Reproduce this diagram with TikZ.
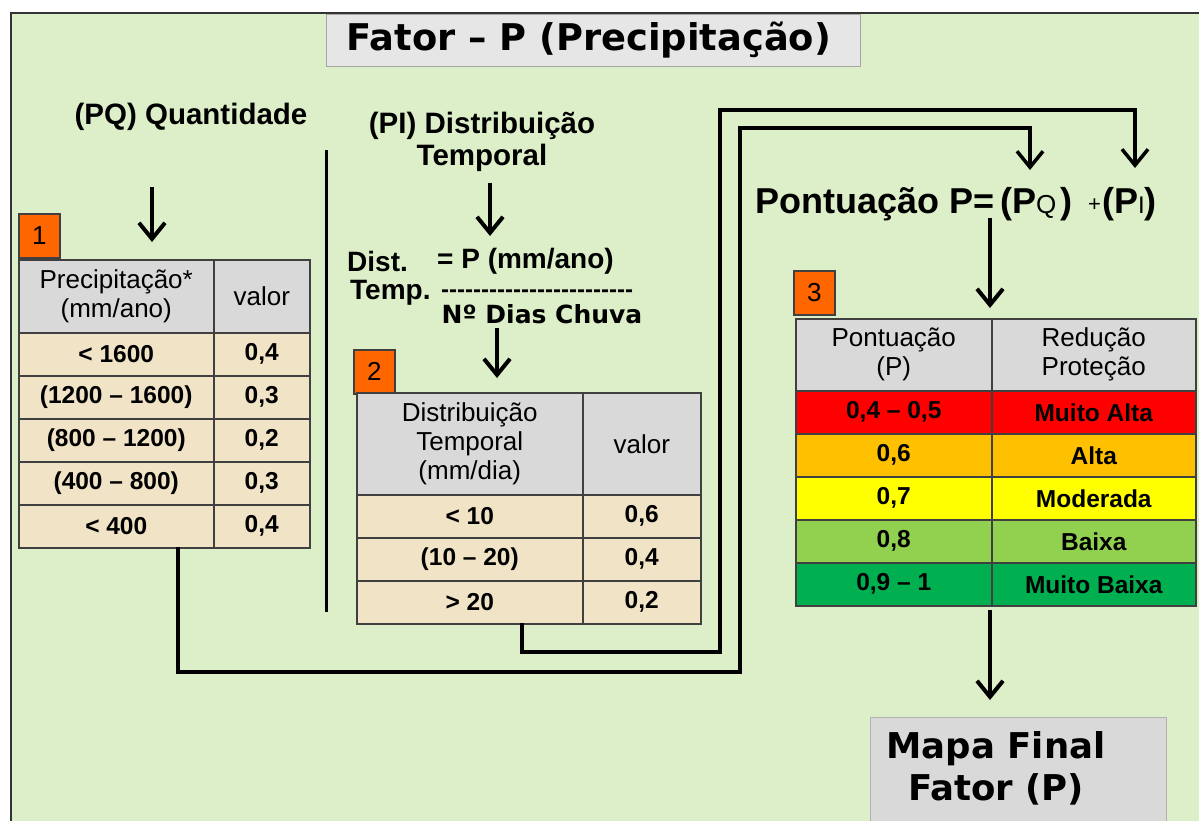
\documentclass[tikz,border=0pt]{standalone}
\usepackage{fontspec}
\setmainfont{Liberation Sans}
\newfontfamily\verd{DejaVu Sans}
\newfontfamily\arialplain{Liberation Sans}
\usetikzlibrary{arrows.meta,positioning,calc}

\definecolor{bggreen}{RGB}{221,239,200}
\definecolor{tabgray}{RGB}{217,217,217}
\definecolor{titlegray}{RGB}{230,230,230}
\definecolor{parch}{RGB}{241,227,198}
\definecolor{tline}{RGB}{64,64,64}
\definecolor{badgeorange}{RGB}{255,102,0}
\definecolor{rowred}{RGB}{255,0,0}
\definecolor{roworange}{RGB}{255,192,0}
\definecolor{rowyellow}{RGB}{255,255,0}
\definecolor{rowlgreen}{RGB}{146,208,80}
\definecolor{rowdgreen}{RGB}{0,176,80}

\begin{document}
\begin{tikzpicture}[
    x=1pt, y=-1pt,
    cell/.style={
        draw=tline,
        line width=1.5pt,
        inner sep=0pt,
        anchor=north west,
        align=center
    },
    headcell/.style={
        cell,
        fill=tabgray,
        font=\fontsize{26}{29}\selectfont
    },
    bodycell/.style={
        cell,
        fill=parch,
        font=\fontsize{24.5}{28}\selectfont\bfseries
    },
    badge/.style={
        draw=tline,
        fill=badgeorange,
        line width=1.5pt,
        minimum width=41,
        minimum height=44,
        inner sep=0pt,
        anchor=north west,
        font=\fontsize{26}{26}\selectfont
    },
    heading/.style={
        inner sep=0pt,
        align=center,
        font=\fontsize{29.5}{32}\selectfont\bfseries
    },
    distlabel/.style={
        inner sep=0pt,
        anchor=west,
        font=\fontsize{28}{30}\selectfont\bfseries
    },
    bigbox/.style={
        draw=black!30,
        fill=tabgray,
        line width=1pt,
        anchor=north west
    },
    arrow/.style={
        -{Straight Barb[length=16pt,width=26pt]},
        line width=4pt
    },
    wire/.style={
        line width=3.5pt
    }
]
\useasboundingbox (0,0) rectangle (1199,820);
\fill[white] (0,0) rectangle (1199,820);

% Moldura
\draw[fill=bggreen, draw=black!80, line width=1.5pt] (11,13) rectangle (1240,860);

% Titulo
\node[bigbox, draw=black!35, fill=titlegray, minimum width=534, minimum height=52] (titlebox) at (326,14) {};
\node[font=\verd\bfseries\fontsize{36.8}{40}\selectfont] (title) at (589,40) {Fator – P (Precipitação)};

% Cabecalhos
\node[heading] (pq) at (191,117) {(PQ) Quantidade};
\node[heading] (pi) at (482,142) {(PI) Distribuição\\Temporal};

% Separador
\draw[line width=3pt] (326,150) -- (326,612);

% Tabela 1
\node[badge] (b1) at (18,213) {1};
\node[headcell, minimum width=195, minimum height=73] (t1h1) at (18,259) {Precipitação*\\(mm/ano)};
\node[headcell, minimum width=96, minimum height=73] (t1h2) at (213,259) {valor};
\foreach \lab/\val [count=\i] in {{< 1600}/{0,4}, {(1200 – 1600)}/{0,3}, {(800 – 1200)}/{0,2}, {(400 – 800)}/{0,3}, {< 400}/{0,4}} {
    \node[bodycell, minimum width=195, minimum height=43] (t1a\i) at (18,{332+43*(\i-1)}) {\lab};
    \node[bodycell, minimum width=96, minimum height=43] (t1b\i) at (213,{332+43*(\i-1)}) {\val};
}

% Formula distribuicao
\node[distlabel] (dist) at (347,261) {Dist.};
\node[distlabel] (temp) at (350,293) {Temp.};
\node[distlabel] (num) at (437,261) {= P (mm/ano)};
\node[distlabel, font=\arialplain\bfseries\fontsize{24}{26}\selectfont] (bar) at (441,294) {------------------------};
\node[font=\verd\bfseries\fontsize{25}{28}\selectfont, inner sep=0pt] (den) at (542,314) {Nº Dias Chuva};

% Tabela 2
\node[badge] (b2) at (353,349) {2};
\node[headcell, minimum width=226, minimum height=102] (t2h1) at (356,392) {Distribuição\\Temporal\\(mm/dia)};
\node[headcell, minimum width=118, minimum height=102] (t2h2) at (582,392) {valor};
\foreach \lab/\val [count=\i] in {{< 10}/{0,6}, {(10 – 20)}/{0,4}, {> 20}/{0,2}} {
    \node[bodycell, minimum width=226, minimum height=43] (t2a\i) at (356,{494+43*(\i-1)}) {\lab};
    \node[bodycell, minimum width=118, minimum height=43] (t2b\i) at (582,{494+43*(\i-1)}) {\val};
}

% Pontuacao
\node[anchor=base west, inner sep=0pt, font=\fontsize{36}{40}\selectfont\bfseries] (pont) at (755,213) {Pontuação P=};
\node[anchor=base west, inner sep=0pt, font=\fontsize{36}{40}\selectfont\bfseries] (pq2) at (1000,213) {(P{\fontsize{26}{26}\selectfont\mdseries Q}\kern4pt)};
\node[anchor=base west, inner sep=0pt, font=\fontsize{22}{22}\selectfont] (plus) at (1088,211) {+};
\node[anchor=base west, inner sep=0pt, font=\fontsize{36}{40}\selectfont\bfseries] (pi2) at (1102,213) {(P{\fontsize{24}{24}\selectfont\mdseries I})};

% Tabela 3
\node[badge] (b3) at (793,270) {3};
\node[headcell, minimum width=196, minimum height=72] (t3h1) at (795,318) {Pontuação\\(P)};
\node[headcell, minimum width=204, minimum height=72] (t3h2) at (991,318) {Redução\\Proteção};
\foreach \lab/\val/\col [count=\i] in {{0,4 – 0,5}/{Muito Alta}/rowred, {0,6}/{Alta}/roworange, {0,7}/{Moderada}/rowyellow, {0,8}/{Baixa}/rowlgreen, {0,9 – 1}/{Muito Baixa}/rowdgreen} {
    \node[bodycell, fill=\col, minimum width=196, minimum height=43] (t3a\i) at (795,{390+43*(\i-1)}) {\lab};
    \node[bodycell, fill=\col, minimum width=204, minimum height=43] (t3b\i) at (991,{390+43*(\i-1)}) {\val};
}

% Mapa final
\node[bigbox, minimum width=296, minimum height=150] (mapa) at (870,717) {};
\node[font=\verd\bfseries\fontsize{35.5}{42}\selectfont, align=center, inner sep=0pt] (mapatxt) at (996,768) {Mapa Final\\Fator (P)};

% Pontos das ligacoes
\coordinate (pqtop) at (152,187);
\coordinate (pqend) at (152,242);
\coordinate (pitop) at (490,183);
\coordinate (piend) at (490,236);
\coordinate (dentop) at (497,328);
\coordinate (denend) at (497,378);
\coordinate (ptop) at (990,218);
\coordinate (pend) at (990,308);
\coordinate (t3bot) at (990,610);
\coordinate (mapaend) at (990,700);
\coordinate (w1s) at (178,547);
\coordinate (w1m) at (740,672);
\coordinate (w1t) at (1030,128);
\coordinate (w1e) at (1030,170);
\coordinate (w2s) at (522,623);
\coordinate (w2m) at (720,652);
\coordinate (w2t) at (1135,110);
\coordinate (w2e) at (1135,168);

% Setas
\draw[arrow] (pqtop) -- (pqend);
\draw[arrow] (pitop) -- (piend);
\draw[arrow] (dentop) -- (denend);
\draw[arrow] (ptop) -- (pend);
\draw[arrow] (t3bot) -- (mapaend);

% Ligacoes das tabelas
\draw[arrow, line width=3.5pt] (w1s) |- (w1m) |- (w1t) -- (w1e);
\draw[arrow, line width=3.5pt] (w2s) |- (w2m) |- (w2t) -- (w2e);

\end{tikzpicture}
\end{document}
